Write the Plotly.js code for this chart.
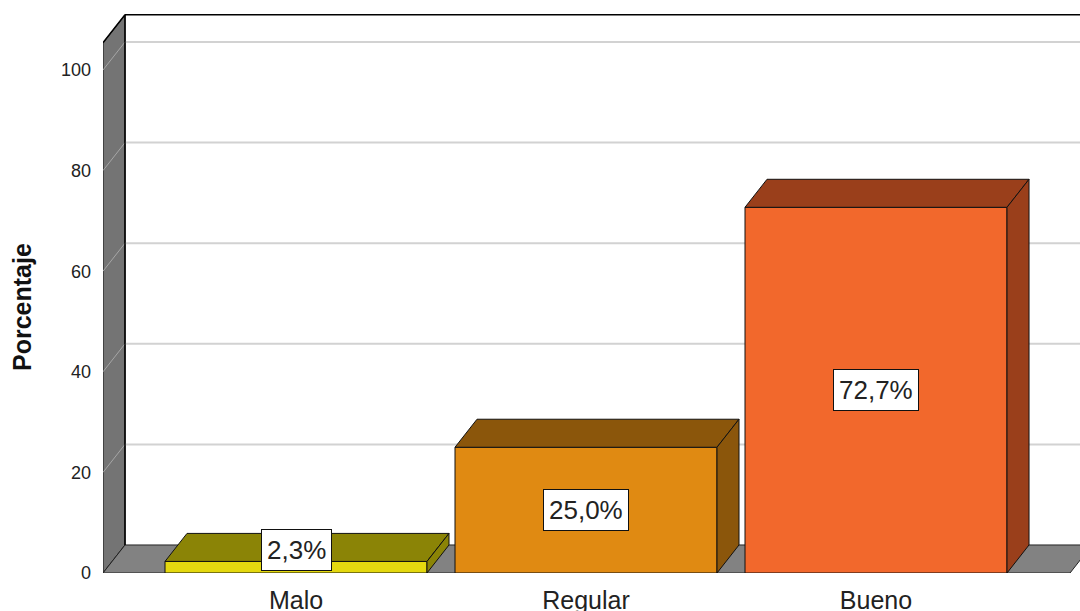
<!DOCTYPE html>
<html>
<head>
<meta charset="utf-8">
<script src="https://cdn.plot.ly/plotly-3.0.1.min.js"></script>
<style>html,body{margin:0;padding:0;background:#fff;}#chart{width:1080px;height:611px;}</style>
</head>
<body>
<div id="chart"></div>
<script>
// ---- data ----
const categories = ['Malo', 'Regular', 'Bueno'];
const percentages = [2.3, 25.0, 72.7];
const yTickValues = [0, 20, 40, 60, 80, 100];
const gridValues = [20, 40, 60, 80, 100];

// ---- styles ----
const frontColors = ['#e4d80f', '#e08a12', '#f2682c'];
const depthColors = ['#8b8406', '#8b560b', '#9a3f1b'];
const wallColor = '#747474';
const floorColor = '#828282';

// ---- 3D geometry (data units) ----
const HALF = 0.4517;     // half bar width
const DX = 0.0759;       // depth offset in x
const DY = 5.57;         // depth offset in y
const X_LEFT = -0.6655;  // front edge of left wall
const X_RIGHT = 2.669;   // front right end of floor
const X_FAR = 3.2;
const WALL_TOP = 105.4;
const LABEL_MIN = 4.6;

function pathOf(xs, ys) {
  return xs.map((x, k) => (k ? 'L' : 'M') + x + ',' + ys[k]).join(' ') + ' Z';
}
function shapePoly(xs, ys, fill, lineColor, lineWidth) {
  return {type: 'path', xref: 'x', yref: 'y', layer: 'below', path: pathOf(xs, ys),
          fillcolor: fill, line: {color: lineColor, width: lineWidth}};
}
function shapeLine(x0, y0, x1, y1, color, width) {
  return {type: 'line', xref: 'x', yref: 'y', layer: 'below', x0: x0, y0: y0, x1: x1, y1: y1,
          line: {color: color, width: width}};
}
function poly(xs, ys, fill) {
  return {type: 'scatter', mode: 'lines', x: xs, y: ys, fill: 'toself',
          fillcolor: fill, line: {color: '#111', width: 1}, hoverinfo: 'skip', showlegend: false};
}

// ---- background walls, floor, grid (drawn below the bars) ----
const shapes = [];
shapes.push(shapePoly([X_LEFT, X_LEFT, X_LEFT + DX, X_LEFT + DX],
                      [0, WALL_TOP, WALL_TOP + DY, DY], wallColor, '#111', 1));
shapes.push(shapePoly([X_LEFT, X_RIGHT, X_RIGHT + DX, X_LEFT + DX],
                      [0, 0, DY, DY], floorColor, '#222', 1));
gridValues.forEach(v => {
  shapes.push(shapeLine(X_LEFT + DX, v + DY, X_FAR, v + DY, '#d2d2d2', 2));
  shapes.push(shapeLine(X_LEFT, v, X_LEFT + DX, v + DY, '#a6a6a6', 1));
});
shapes.push(shapeLine(X_LEFT, WALL_TOP, X_LEFT + DX, WALL_TOP + DY, '#000', 1.5));
shapes.push(shapeLine(X_LEFT + DX, WALL_TOP + DY, X_FAR, WALL_TOP + DY, '#000', 1.5));
shapes.push(shapeLine(X_LEFT + DX, DY, X_LEFT + DX, WALL_TOP + DY, '#000', 1.5));

// ---- bars ----
const traces = [];
traces.push({
  type: 'bar', x: categories.map((c, i) => i), y: percentages, width: 2 * HALF,
  marker: {color: frontColors, line: {color: '#111', width: 1}},
  hoverinfo: 'skip', showlegend: false
});
percentages.forEach((v, i) => {
  const l = i - HALF, r = i + HALF;
  traces.push(poly([l, r, r + DX, l + DX, l], [v, v, v + DY, v + DY, v], depthColors[i]));
  traces.push(poly([r, r, r + DX, r + DX, r], [0, v, v + DY, DY, 0], depthColors[i]));
});

const annotations = percentages.map((v, i) => ({
  x: i, y: Math.max(v / 2, LABEL_MIN), xref: 'x', yref: 'y',
  text: v.toFixed(1).replace('.', ',') + '%', showarrow: false,
  font: {family: 'Liberation Sans, Arial, sans-serif', size: 26, color: '#222'},
  bgcolor: '#ffffff', bordercolor: '#111', borderwidth: 1, borderpad: 5
}));
annotations.push({
  xref: 'paper', yref: 'paper', x: -0.0829, y: 0.475, xanchor: 'center', yanchor: 'middle',
  text: '<b>Porcentaje</b>', textangle: -90, showarrow: false,
  font: {family: 'Liberation Sans, Arial, sans-serif', size: 25, color: '#111'}
});

const layout = {
  width: 1080, height: 611,
  margin: {l: 103, r: 0, t: 13, b: 38, pad: 0},
  paper_bgcolor: '#fff', plot_bgcolor: '#fff',
  font: {family: 'Liberation Sans, Arial, sans-serif', color: '#222'},
  bargap: 0,
  xaxis: {
    range: [X_LEFT, 2.7034], tickvals: categories.map((c, i) => i), ticktext: categories,
    showgrid: false, zeroline: false, showline: false, ticks: '',
    tickfont: {size: 25, color: '#222'}, ticklabelstandoff: 10, fixedrange: true
  },
  yaxis: {
    range: [0, 111.33], tickvals: yTickValues, ticktext: yTickValues.map(String),
    showgrid: false, zeroline: false, showline: false, ticks: '',
    tickfont: {size: 18, color: '#222'}, ticklabelstandoff: 11, fixedrange: true
  },
  shapes: shapes,
  annotations: annotations
};

Plotly.newPlot('chart', traces, layout, {displayModeBar: false, staticPlot: true});
</script>
</body>
</html>
